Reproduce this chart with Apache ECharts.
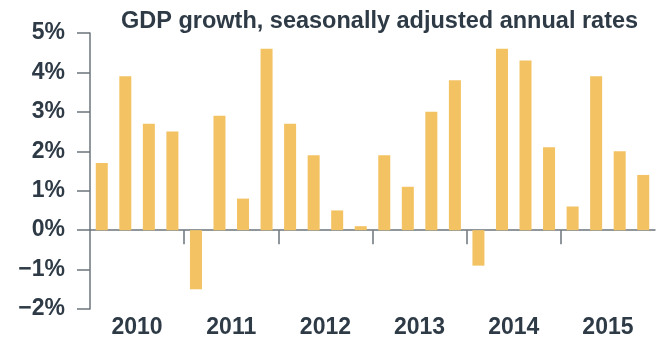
<!DOCTYPE html>
<html>
<head>
<meta charset="utf-8">
<script src="https://cdn.jsdelivr.net/npm/echarts@6/dist/echarts.min.js"></script>
<style>
html,body{margin:0;padding:0;background:#fff;}
#chart{width:658px;height:339px;}
</style>
</head>
<body>
<div id="chart"></div>
<script>
const title = 'GDP growth, seasonally adjusted annual rates';
const years = ['2010', '2011', '2012', '2013', '2014', '2015'];
const quarters = ['2010Q1','2010Q2','2010Q3','2010Q4','2011Q1','2011Q2','2011Q3','2011Q4',
  '2012Q1','2012Q2','2012Q3','2012Q4','2013Q1','2013Q2','2013Q3','2013Q4',
  '2014Q1','2014Q2','2014Q3','2014Q4','2015Q1','2015Q2','2015Q3','2015Q4'];
const growth = [1.7, 3.9, 2.7, 2.5, -1.5, 2.9, 0.8, 4.6, 2.7, 1.9, 0.5, 0.1,
  1.9, 1.1, 3.0, 3.8, -0.9, 4.6, 4.3, 2.1, 0.6, 3.9, 2.0, 1.4];
// year boundaries, counted in quarters
const yearBoundaries = [4, 8, 12, 16, 20];

const textColor = '#2e3b46';
const axisColor = '#6b757d';
const chart = echarts.init(document.getElementById('chart'));
chart.setOption({
  animation: false,
  title: {
    text: title, left: 116, top: 5,
    textStyle: {fontFamily: 'Liberation Sans', fontSize: 23.5, fontWeight: 'bold', color: textColor}
  },
  grid: {left: 90, right: 3, top: 33, bottom: 30, containLabel: false},
  xAxis: [{
    type: 'category', data: quarters,
    axisLine: {onZero: true, lineStyle: {color: axisColor, width: 1.5}},
    axisTick: {show: false},
    axisLabel: {show: false},
    splitLine: {show: false}
  }, {
    type: 'category', data: years, position: 'bottom',
    axisLine: {show: false, onZero: false}, axisTick: {show: false},
    axisLabel: {margin: 7, fontFamily: 'Liberation Sans', fontSize: 23, fontWeight: 'bold', color: textColor}
  }, {
    type: 'value', min: 0, max: quarters.length, position: 'bottom',
    axisLine: {show: true, onZero: true, onZeroAxisIndex: 0, lineStyle: {opacity: 0}},
    axisTick: {show: true, length: 14, customValues: yearBoundaries,
      lineStyle: {color: axisColor, width: 1.5}},
    axisLabel: {show: false},
    splitLine: {show: false}
  }],
  yAxis: {
    type: 'value', min: -2, max: 5, interval: 1,
    axisLine: {show: true, lineStyle: {color: axisColor, width: 1.5}},
    axisTick: {show: true, length: 13, lineStyle: {color: axisColor, width: 1.5}},
    axisLabel: {margin: 25, fontFamily: 'Liberation Sans', fontSize: 23, fontWeight: 'bold', color: textColor,
      formatter: function (v) { return (v < 0 ? '\u2212' + (-v) : v) + '%'; }},
    splitLine: {show: false}
  },
  series: [{
    type: 'bar', data: growth, xAxisIndex: 0,
    barWidth: 12,
    itemStyle: {color: '#f3c262'}
  }]
});
</script>
</body>
</html>
